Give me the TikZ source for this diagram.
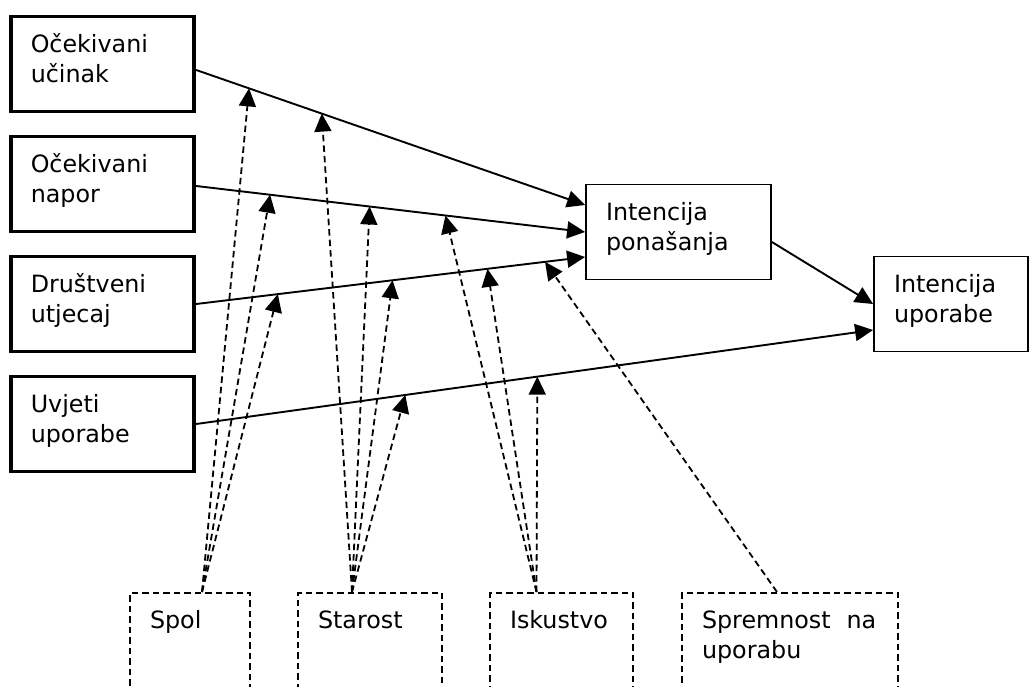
\documentclass[tikz,border=0pt]{standalone}
\usepackage{fontspec}
\setmainfont{DejaVu Sans}
\usetikzlibrary{arrows.meta}

\begin{document}
\begin{tikzpicture}[x=1pt, y=-1pt,
                  font=\fontsize{23.8}{30}\selectfont,
                  box/.style={draw, align=left, inner xsep=20pt, inner ysep=0pt, text height=36pt, text depth=59pt},
                  factor/.style={box, line width=3.8pt, text width=143.5pt},
                  target/.style={box, line width=1.8pt},
                  moderator/.style={box, line width=1.7pt, dash pattern=on 6.5pt off 4pt, anchor=north, text depth=110pt},
                  flow/.style={line width=1.9pt, -{Triangle[length=18pt, width=17pt]}},
                  modflow/.style={flow, line width=1.8pt, dash pattern=on 6.5pt off 4pt}]
                  \useasboundingbox (0,0) rectangle (1030,687);
                  \clip (0,0) rectangle (1030,687);

                  \node[factor] (ocu) at (102.5,64) {Očekivani\\učinak};
                  \node[factor] (ocn) at (102.5,184) {Očekivani\\napor};
                  \node[factor] (dru) at (102.5,304) {Društveni\\utjecaj};
                  \node[factor] (uvj) at (102.5,424) {Uvjeti\\uporabe};

                  \node[target, text width=145pt] (ipo) at (678.5,232) {Intencija\\ponašanja};
                  \node[target, text width=114pt] (iup) at (951,304) {Intencija\\uporabe};

                  \node[moderator, text width=80pt] (spol) at (190,592) {Spol};
                  \node[moderator, text width=104pt] (sta) at (370,592) {Starost};
                  \node[moderator, text width=103pt] (isk) at (561.5,592) {Iskustvo};
                  \node[moderator, text width=176pt] (spr) at (790,592) {Spremnost~~na\\uporabu};

                  \draw[flow] ([yshift=-6pt]ocu.east) -- coordinate[pos=.136] (u1) coordinate[pos=.323] (u2) ([yshift=27pt]ipo.west);
                  \draw[flow] ([yshift=-2pt]ocn.east) -- coordinate[pos=.19] (n1) coordinate[pos=.446] (n2) coordinate[pos=.641] (n3) (ipo.west);
                  \draw[flow] (dru.east) -- coordinate[pos=.21] (d1) coordinate[pos=.505] (d2) coordinate[pos=.749] (d3) coordinate[pos=.897] (d4) ([yshift=-25pt]ipo.west);
                  \draw[flow] (uvj.east) -- coordinate[pos=.309] (v2) coordinate[pos=.504] (v3) ([yshift=-26pt]iup.west);
                  \draw[flow] ([yshift=-10pt]ipo.east) -- (iup.west);

                  \draw[modflow] ([xshift=12pt]spol.north) -- (u1);
                  \draw[modflow] ([xshift=12pt]spol.north) -- (n1);
                  \draw[modflow] ([xshift=12pt]spol.north) -- (d1);

                  \draw[modflow] ([xshift=-18pt]sta.north) -- (u2);
                  \draw[modflow] ([xshift=-18pt]sta.north) -- (n2);
                  \draw[modflow] ([xshift=-18pt]sta.north) -- (d2);
                  \draw[modflow] ([xshift=-18pt]sta.north) -- (v2);

                  \draw[modflow] ([xshift=-25pt]isk.north) -- (n3);
                  \draw[modflow] ([xshift=-25pt]isk.north) -- (d3);
                  \draw[modflow] ([xshift=-25pt]isk.north) -- (v3);

                  \draw[modflow] ([xshift=-13pt]spr.north) -- (d4);
              \end{tikzpicture}
\end{document}
